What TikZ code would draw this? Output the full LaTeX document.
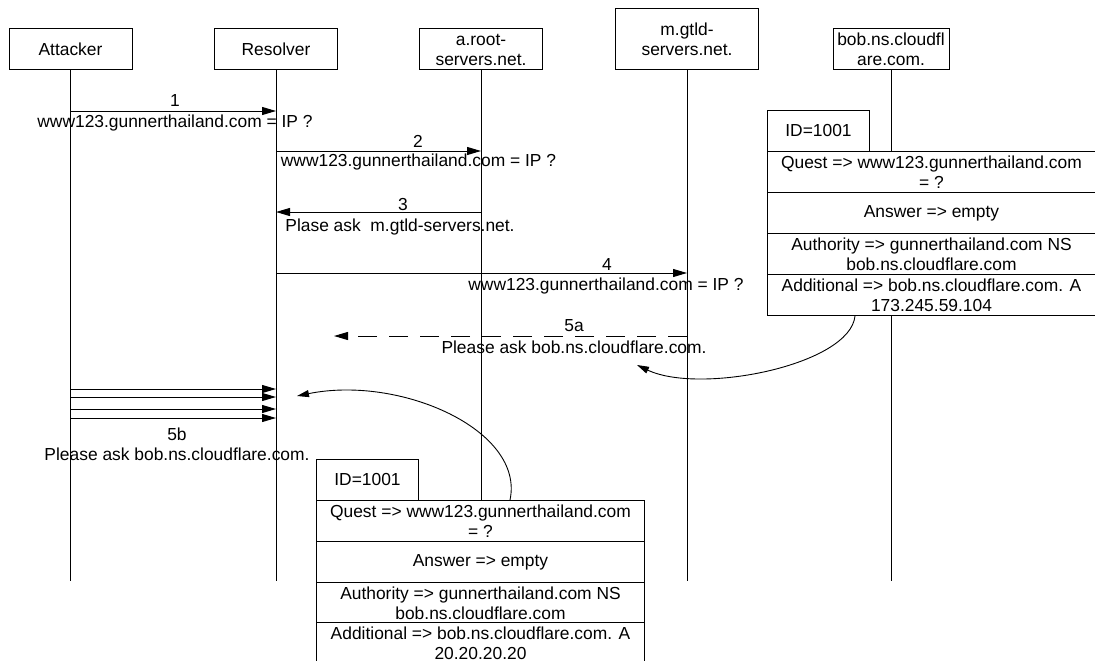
\documentclass[tikz,border=0pt]{standalone}
\usepackage{fontspec}
\setmainfont{Liberation Sans}
\usetikzlibrary{arrows.meta}
\begin{document}
\begin{tikzpicture}[x=1pt,y=-1pt,
  every node/.style={font=\fontsize{17.4}{20}\selectfont},
  actor/.style={draw, line width=1pt, align=center, inner sep=0pt,
    minimum height=41pt, minimum width=123pt},
  life/.style={line width=1pt},
  msg/.style={line width=1pt, -{Triangle[length=14pt,width=8pt]}},
  reply/.style={msg, dash pattern=on 19pt off 12pt},
  hook/.style={line width=0.9pt, -{Triangle[length=12pt,width=7pt]}},
  lbl/.style={inner sep=0pt, align=center},
  field/.style={draw, fill=white, line width=1pt, align=center, inner sep=0pt,
    minimum width=328pt, minimum height=41pt, anchor=north west},
  tabbox/.style={draw, fill=white, line width=1pt, inner sep=0pt,
    minimum width=102pt, minimum height=41pt, anchor=north west},
]
\useasboundingbox (0,0) rectangle (1095,661);

% participants
\node[actor] (att) at (70.5,49.5) {Attacker};
\node[actor] (res) at (276,49.5) {Resolver};
\node[actor] (root) at (481,49.5) {a.root-\\servers.net.};
\node[actor, minimum width=143pt, minimum height=61pt] (gtld) at (687,39.5) {m.gtld-\\servers.net.};
\node[actor, minimum width=116pt] (bob) at (891,49.5) {bob.ns.cloudfl\\are.com.};

% lifelines
\coordinate (bottom) at (0,581);
\foreach \p in {att,res,root,gtld,bob}
  \draw[life] (\p.south) -- (\p.south |- bottom);

% message rows
\coordinate (y1) at (0,111);
\coordinate (y2) at (0,151);
\coordinate (y3) at (0,212);
\coordinate (y4) at (0,273);
\coordinate (y5) at (0,336);
\coordinate (f1) at (0,389);
\coordinate (f2) at (0,397);
\coordinate (f3) at (0,409);
\coordinate (f4) at (0,418);
\coordinate (t5a) at (334,336);

% messages
\draw[msg] (att.south |- y1) -- (res.south |- y1);
\draw[msg] (res.south |- y2) -- (root.south |- y2);
\draw[msg] (root.south |- y3) -- (res.south |- y3);
\draw[msg] (res.south |- y4) -- (gtld.south |- y4);
\draw[reply] (gtld.south |- y5) -- (t5a);
\foreach \r in {f1,f2,f3,f4}
  \draw[msg] (att.south |- \r) -- (res.south |- \r);

% message labels
\node[lbl] (n1) at (175,101) {1};
\node[lbl] (m1) at (175,123) {www123.gunnerthailand.com = IP ?};
\node[lbl] (n2) at (418,141) {2};
\node[lbl] (m2) at (418.5,162) {www123.gunnerthailand.com = IP ?};
\node[lbl] (n3) at (403,205) {3};
\node[lbl] (m3) at (400,227) {Plase ask~ m.gtld-servers.net.};
\node[lbl] (n4) at (607,265) {4};
\node[lbl] (m4) at (606,286) {www123.gunnerthailand.com = IP ?};
\node[lbl] (n5a) at (574,326) {5a};
\node[lbl] (m5a) at (574,347) {Please ask bob.ns.cloudflare.com.};
\node[lbl] (n5b) at (177,434) {5b};
\node[lbl] (m5b) at (177,454) {Please ask bob.ns.cloudflare.com.};

% response packet from bob.ns.cloudflare.com.
\node[tabbox] (rid) at (767,110) {ID=1001};
\node[field] (rq) at (767,151) {Quest => www123.gunnerthailand.com\\= ?};
\node[field] (ra) at (767,192) {Answer => empty};
\node[field] (rn) at (767,233) {Authority => gunnerthailand.com NS\\bob.ns.cloudflare.com};
\node[field] (rd) at (767,274) {Additional => bob.ns.cloudflare.com. A\\173.245.59.104};

% forged response packet
\node[tabbox] (lid) at (316,459) {ID=1001};
\node[field] (lq) at (316,500) {Quest => www123.gunnerthailand.com\\= ?};
\node[field] (la) at (316,541) {Answer => empty};
\node[field] (ln) at (316,582) {Authority => gunnerthailand.com NS\\bob.ns.cloudflare.com};
\node[field] (ld) at (316,622) {Additional => bob.ns.cloudflare.com. A\\20.20.20.20};

% packets attached to the replies
\coordinate (tipA) at (637,365);
\coordinate (tipB) at (297,396);
\draw[hook] ([xshift=88pt]rd.south west) .. controls (850,365) and (700,395) .. (tipA);
\draw[hook] ([xshift=194pt]lq.north west) .. controls (525,430) and (400,375) .. (tipB);
\end{tikzpicture}
\end{document}
